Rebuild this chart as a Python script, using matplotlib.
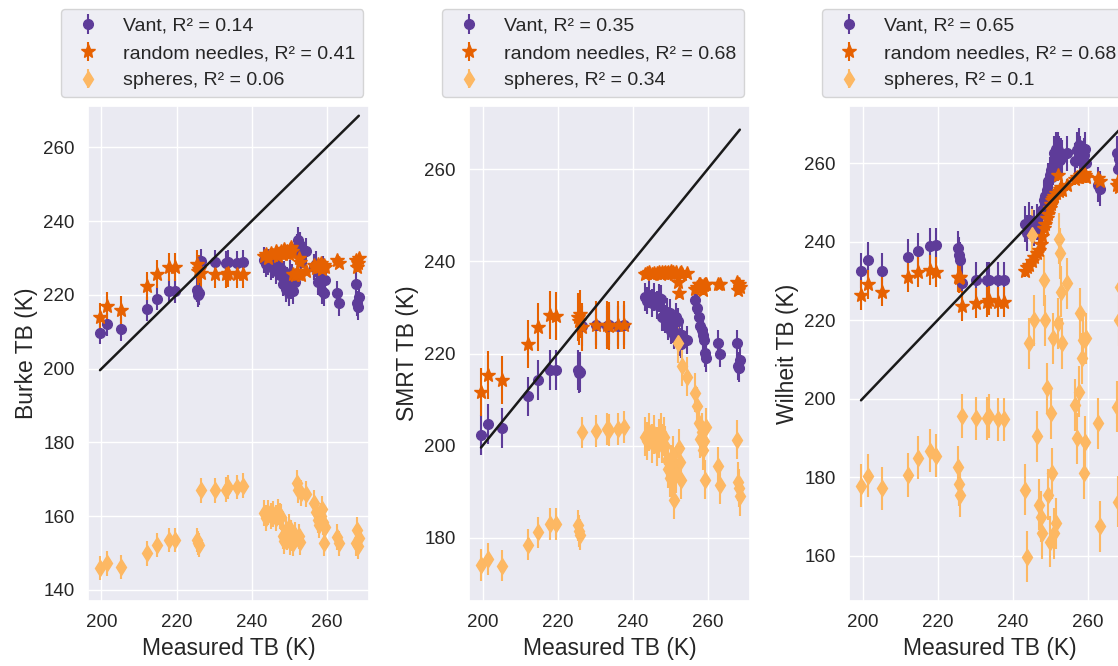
import matplotlib
matplotlib.use('Agg')
import matplotlib.pyplot as plt
import seaborn as sns

sns.set_theme(style='darkgrid')
plt.rcParams['font.family'] = ['Liberation Sans', 'DejaVu Sans']

# measured brightness temperature (K), shared by all three panels
# first 16 points: colder sites, the rest: warm cluster
measured = [199.6, 201.4, 205.2, 212.0, 214.7, 217.9, 219.6, 225.4, 225.7, 225.9,
            226.6, 230.3, 233.3, 233.8, 236.0, 237.6,
            243.4, 243.9, 244.5, 245.2, 245.8, 246.4, 247.0, 247.5, 247.9, 248.3,
            248.7, 249.1, 249.5, 249.9, 250.3, 250.5, 250.8, 251.1, 251.5, 252.0,
            252.4, 252.7, 253.0, 253.3, 254.4, 256.6, 257.1, 257.6, 258.0, 258.4,
            258.7, 259.0, 259.3, 259.6, 262.8, 263.3, 267.8, 268.0, 268.3, 268.6]
n_cold = 16

# Burke
burke_vant = [209.8, 212.0, 210.8, 216.2, 219.0, 221.2, 221.0, 221.3, 219.9, 220.5,
              229.2, 229.0, 228.7, 228.9, 228.7, 229.0,
              229.5, 228.5, 229.0, 227.6, 228.2, 226.5, 228.0, 225.5, 227.0, 223.1,
              225.8, 221.5, 224.0, 220.4, 226.0, 222.5, 225.0, 221.0, 223.5, 233.0,
              235.0, 231.2, 233.5, 229.0, 232.0, 227.6, 228.5, 223.5, 226.0, 225.8,
              221.0, 227.0, 220.5, 224.0, 220.4, 217.7, 223.1, 217.7, 216.8, 219.5]
burke_needles = [214.1, 217.0, 215.9, 222.5, 225.6, 227.6, 227.6, 228.5, 226.5, 227.0,
                 226.0, 225.8, 225.8, 226.0, 225.8, 225.8,
                 230.5, 231.2, 230.0, 231.5, 230.8, 231.8, 230.5, 231.5, 232.0, 231.0,
                 232.5, 231.5, 232.0, 231.2, 232.5, 233.0, 232.0, 225.8, 225.5, 226.0,
                 225.8, 230.0, 229.0, 225.5, 226.5, 228.0, 227.2, 228.5, 227.6, 228.8,
                 227.0, 227.8, 228.2, 227.5, 229.4, 228.8, 229.4, 227.5, 228.8, 230.0]
burke_spheres = [145.9, 147.2, 146.3, 149.9, 152.2, 153.5, 153.5, 153.5, 152.8, 152.2,
                 167.0, 167.0, 167.2, 167.9, 168.0, 168.3,
                 160.8, 159.4, 161.0, 160.0, 160.5, 159.5, 161.2, 160.0, 159.8, 154.6,
                 153.2, 156.3, 154.4, 157.0, 153.1, 155.5, 154.0, 152.6, 155.0, 168.9,
                 167.0, 154.5, 153.0, 166.2, 166.0, 163.5, 161.2, 159.0, 157.6, 160.0,
                 162.0, 158.5, 152.6, 157.0, 154.4, 152.6, 152.6, 156.3, 152.0, 154.0]

# SMRT
smrt_vant = [202.3, 204.7, 203.8, 210.7, 214.3, 216.4, 216.4, 216.4, 215.7, 216.0,
             226.0, 226.2, 226.0, 226.3, 226.0, 226.2,
             232.3, 231.5, 232.8, 231.0, 232.3, 230.5, 232.0, 231.8, 228.0, 228.0,
             227.5, 229.0, 226.0, 228.8, 225.0, 226.0, 225.2, 224.0, 228.0, 227.0,
             223.0, 222.5, 222.0, 224.0, 223.0, 231.6, 230.0, 228.0, 226.0, 225.1,
             224.0, 223.0, 220.1, 219.0, 222.2, 220.0, 222.2, 217.3, 216.8, 218.6]
smrt_needles = [211.7, 215.4, 214.3, 222.1, 225.7, 228.4, 228.2, 228.0, 227.0, 228.5,
                225.8, 226.2, 226.2, 226.0, 226.2, 226.2,
                237.2, 237.4, 237.6, 237.3, 237.5, 237.4, 237.7, 237.3, 237.6, 237.4,
                237.8, 237.5, 237.6, 237.4, 237.9, 237.5, 237.7, 237.3, 237.6, 235.6,
                233.1, 237.4, 237.6, 237.3, 237.5, 234.0, 234.5, 235.2, 235.0, 234.6,
                233.8, 234.8, 235.2, 235.0, 235.2, 235.0, 235.6, 233.8, 235.0, 234.5]
smrt_spheres = [174.1, 175.4, 174.0, 178.5, 181.2, 183.0, 183.0, 182.7, 181.5, 180.7,
                202.9, 203.2, 203.6, 203.4, 203.6, 204.1,
                202.0, 201.0, 203.0, 200.5, 202.5, 199.8, 201.5, 203.0, 200.5, 202.0,
                200.0, 197.0, 195.0, 193.0, 196.0, 192.5, 198.0, 188.2, 194.0, 222.2,
                199.5, 196.5, 192.6, 217.2, 215.0, 211.5, 208.6, 205.0, 201.5, 203.0,
                199.0, 201.0, 192.6, 204.0, 195.5, 191.5, 201.3, 192.2, 190.8, 189.0]

# Wilheit
wilheit_vant = [232.6, 235.3, 232.6, 236.2, 237.7, 238.9, 239.1, 238.3, 236.6, 235.3,
                229.5, 230.2, 230.2, 230.2, 230.2, 230.2,
                244.5, 242.2, 245.5, 244.7, 243.5, 245.0, 243.8, 247.0, 248.0, 250.6,
                251.5, 253.1, 255.5, 257.0, 258.2, 256.5, 259.0, 262.5, 263.5, 263.3,
                262.5, 260.8, 262.0, 261.5, 262.5, 260.5, 263.3, 264.5, 262.5, 261.2,
                260.3, 262.0, 263.5, 260.0, 254.5, 253.5, 262.5, 258.6, 261.0, 259.5]
wilheit_needles = [226.4, 229.1, 227.3, 231.1, 232.3, 232.8, 232.3, 231.1, 230.7, 230.9,
                   223.6, 224.3, 224.7, 225.1, 224.7, 224.7,
                   232.5, 233.5, 234.0, 235.0, 236.0, 237.0, 238.0, 239.5, 241.5, 243.5,
                   244.5, 246.0, 247.0, 248.5, 249.5, 250.5, 251.0, 251.5, 252.3, 256.9,
                   253.0, 253.5, 254.0, 253.1, 254.5, 256.0, 256.5, 256.5, 257.0, 257.2,
                   256.8, 257.4, 257.0, 256.5, 256.1, 255.5, 254.4, 255.5, 253.8, 254.8]
wilheit_spheres = [177.9, 180.4, 177.2, 180.6, 185.0, 186.8, 185.5, 182.5, 178.3, 175.5,
                   195.6, 195.0, 195.0, 195.6, 194.8, 194.8,
                   176.8, 159.8, 214.1, 241.7, 220.0, 190.4, 173.0, 170.0, 165.8, 230.2,
                   220.0, 202.7, 175.6, 163.6, 196.3, 181.0, 215.4, 165.8, 168.3, 219.2,
                   240.8, 237.0, 227.2, 214.1, 229.4, 198.4, 189.9, 201.8, 221.8, 210.3,
                   215.0, 181.0, 189.0, 215.4, 193.8, 167.5, 198.0, 173.8, 220.0, 228.5]

# error bar half-lengths (K) for vant, needles, spheres: cold sites / warm cluster
burke_err_cold = [3.2, 3.8, 3.3]
burke_err_warm = [3.5, 1.2, 3.5]
smrt_err_cold = [4.3, 5.2, 3.4]
smrt_err_warm = [3.0, 1.0, 4.2]
wilheit_err_cold = [4.5, 3.8, 5.5]
wilheit_err_warm = [4.5, 1.5, 6.5]

r2_burke = [0.14, 0.41, 0.06]
r2_smrt = [0.35, 0.68, 0.34]
r2_wilheit = [0.65, 0.68, 0.1]

colors = ['#5e3c99', '#e66101', '#fdb863']
markers = ['o', '*', 'd']
sizes = [7, 10, 8]
names = ['Vant', 'random needles', 'spheres']

panels = [
    ('Burke TB (K)', [burke_vant, burke_needles, burke_spheres],
     burke_err_cold, burke_err_warm, r2_burke, (137.0, 271.2)),
    ('SMRT TB (K)', [smrt_vant, smrt_needles, smrt_spheres],
     smrt_err_cold, smrt_err_warm, r2_smrt, (166.3, 273.7)),
    ('Wilheit TB (K)', [wilheit_vant, wilheit_needles, wilheit_spheres],
     wilheit_err_cold, wilheit_err_warm, r2_wilheit, (148.5, 274.5)),
]

fig = plt.figure(figsize=(11.18, 6.66), dpi=100)
lefts = [0.0787, 0.4195, 0.7594]
n_warm = len(measured) - n_cold

for left, (ylabel, series, e_cold, e_warm, r2s, ylim) in zip(lefts, panels):
    ax = fig.add_axes([left, 0.0976, 0.2513, 0.743])
    for i, ys in enumerate(series):
        yerr = [e_cold[i]] * n_cold + [e_warm[i]] * n_warm
        ax.errorbar(measured, ys, yerr=yerr, fmt=markers[i], color=colors[i],
                    ms=sizes[i], elinewidth=1.5, capsize=0,
                    label=f'{names[i]}, R\u00b2 = {r2s[i]}')
    lo, hi = min(measured), max(measured)
    ax.plot([lo, hi], [lo, hi], color='k', lw=1.8, zorder=5)
    ax.set_xlim(196.4, 271.3)
    ax.set_ylim(*ylim)
    ax.set_xticks([200, 220, 240, 260])
    ax.set_xlabel('Measured TB (K)', fontsize=16.5)
    ax.set_ylabel(ylabel, fontsize=16.5)
    ax.tick_params(labelsize=13.5)
    ax.legend(loc='lower left', bbox_to_anchor=(-0.096, 1.018), borderaxespad=0,
              fontsize=14)

fig.savefig('out.png', dpi=100)
